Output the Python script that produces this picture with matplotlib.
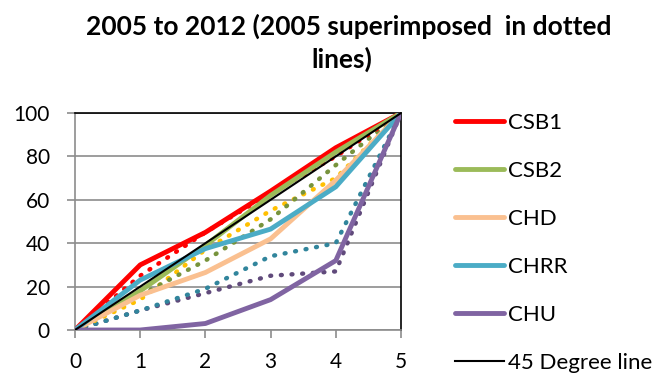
import matplotlib
matplotlib.use('Agg')
import matplotlib.pyplot as plt

plt.rcParams['font.family'] = ['Lato', 'DejaVu Sans']

# x positions
years = [0, 1, 2, 3, 4, 5]

# 2012 series (solid)
csb1 = [0, 30, 45, 64, 84, 100]
csb2 = [0, 18, 39, 62, 82, 100]
chd = [0, 16, 26.5, 42, 69, 100]
chrr = [0, 23, 37.5, 46.5, 66, 100]
chu = [0, 0, 3, 14, 32, 100]
line45 = [0, 20, 40, 60, 80, 100]

# 2005 series (dotted)
csb1_05 = [0, 25, 45, 63, 80, 100]
csb2_05 = [0, 16, 32, 51, 76, 100]
chd_05 = [0, 14, 37, 55, 70, 100]
chrr_05 = [0, 9, 19, 34, 40, 100]
chu_05 = [0, 9, 17, 25, 27, 100]

labels = ['CSB1', 'CSB2', 'CHD', 'CHRR', 'CHU', '45 Degree line']

fig = plt.figure(figsize=(6.66, 3.73), dpi=100)
ax = fig.add_axes([75/666, 1-330/373, 326/666, 217/373])

# dotted 2005 lines first (not in legend)
dot = dict(lw=3.2, linestyle=(0, (0.2, 2.2)), dash_capstyle='round', zorder=2)
ax.plot(years, chu_05, color='#604A7B', **dot)
ax.plot(years, chrr_05, color='#31859C', **dot)
ax.plot(years, chd_05, color='#FFC000', **dot)
ax.plot(years, csb2_05, color='#77933C', **dot)
ax.plot(years, csb1_05, color='#FF0000', **dot)

sol = dict(lw=3.5, solid_capstyle='round', zorder=3)
h1, = ax.plot(years, csb1, color='#FF0000', **sol)
h2, = ax.plot(years, csb2, color='#9BBB59', **sol)
h3, = ax.plot(years, chd, color='#FAC090', **sol)
h4, = ax.plot(years, chrr, color='#4BACC6', **sol)
h5, = ax.plot(years, chu, color='#8064A2', **sol)
h6, = ax.plot(years, line45, color='black', lw=1.5, zorder=4)

ax.set_xlim(0, 5)
ax.set_ylim(0, 100)
ax.set_xticks(years)
ax.set_yticks([0, 20, 40, 60, 80, 100])
ax.yaxis.grid(True, color='#8c8c8c', lw=1.2)
ax.set_axisbelow(True)
for s in ['left', 'bottom']:
    ax.spines[s].set_color('#8c8c8c')
    ax.spines[s].set_linewidth(1.2)
for s in ['top', 'right']:
    ax.spines[s].set_color('black')
    ax.spines[s].set_linewidth(1.2)
ax.tick_params(axis='both', colors='#8c8c8c', labelcolor='black', labelsize=15, width=1.2, length=6)
ax.tick_params(axis='x', pad=10)
ax.tick_params(axis='y', pad=12)

fig.legend([h1, h2, h3, h4, h5, h6], labels, loc='upper left', bbox_to_anchor=(446/666, 1-104/373),
           frameon=False, fontsize=16, handlelength=2.2, handletextpad=0.2, labelspacing=1.26,
           borderaxespad=0)

fig.text(349/666, 1-35/373, '2005 to 2012 (2005 superimposed  in dotted', ha='center', va='baseline',
         fontsize=19, fontweight='bold')
fig.text(342/666, 1-68/373, 'lines)', ha='center', va='baseline', fontsize=19, fontweight='bold')

fig.savefig('out.png', dpi=100)
